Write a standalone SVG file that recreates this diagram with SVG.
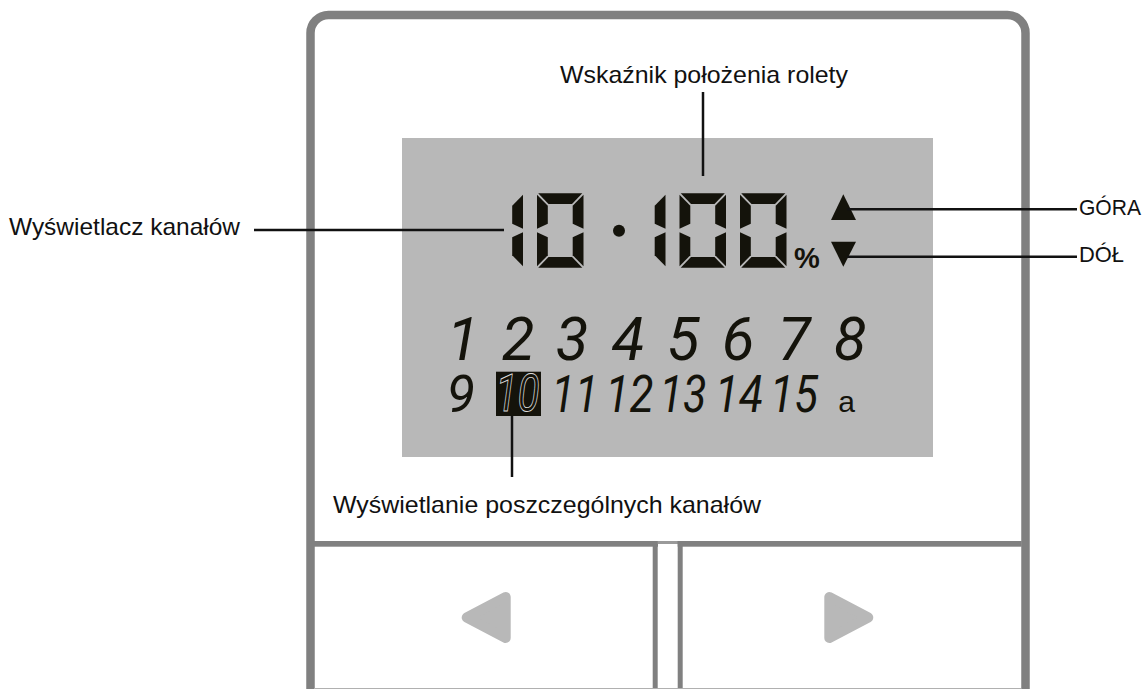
<svg xmlns="http://www.w3.org/2000/svg" width="1146" height="689" viewBox="0 0 1146 689">
<style>
.frame{fill:none;stroke:#808080;stroke-width:8.5}
.bar{fill:#808080}
.lbl{font-family:"Liberation Sans",Arial,sans-serif;font-size:24px;fill:#111}
.num{font-family:Roboto,"Liberation Sans",sans-serif;font-style:italic;font-weight:400;fill:#14130b;text-anchor:middle}
.conn line{stroke:#111;stroke-width:2.5}
.btn{fill:#b8b8b8;stroke:#b8b8b8;stroke-width:10;stroke-linejoin:round}
</style>
<defs>
<g id="d0" fill="#14130b">
<polygon points="1.2,0 45.3,0 35,10.8 11.5,10.8"/>
<polygon points="1.2,74.4 45.3,74.4 35,63.6 11.5,63.6"/>
<polygon points="0,1.4 10.8,12.4 10.8,30.4 0,35.4"/>
<polygon points="0,39 10.8,44 10.8,62 0,73"/>
<polygon points="46.5,1.4 46.5,35.4 35.7,30.4 35.7,12.4"/>
<polygon points="46.5,39 46.5,73 35.7,62 35.7,44"/>
</g>
<g id="d1" fill="#14130b">
<polygon points="10.8,1.4 10.8,35.4 0,30.4 0,12.4"/>
<polygon points="10.8,39 10.8,73 0,62 0,44"/>
</g>
</defs>
<rect width="1146" height="689" fill="#fff"/>

<g id="device">
<path class="frame" d="M310.5,700 V33 A18,18 0 0 1 328.5,15 H1007.5 A18,18 0 0 1 1025.5,33 V700"/>
<rect id="lcd" x="402" y="138" width="531" height="319" fill="#b8b8b8"/>
</g>

<g id="buttons">
<rect class="bar" x="314" y="541" width="344" height="5.7"/>
<rect x="657" y="541" width="21" height="3" fill="#9a9a9a"/>
<rect class="bar" x="677.7" y="541" width="344" height="5.7"/>
<rect class="bar" x="652.7" y="541" width="5" height="150"/>
<rect class="bar" x="677.7" y="541" width="5" height="150"/>
<line x1="314" y1="688.5" x2="1021" y2="688.5" stroke="#b0b0b0" stroke-width="1"/>
<polygon id="btn-left" class="btn" points="505.7,597 505.7,638 466.7,617.5"/>
<polygon id="btn-right" class="btn" points="829.3,597 829.3,638 868.3,617.5"/>
</g>

<g id="segment-display">
<use href="#d1" x="512.2" y="193.3"/>
<use href="#d0" x="537" y="193.3"/>
<circle cx="619" cy="230.7" r="6" fill="#14130b"/>
<use href="#d1" x="654.7" y="193.3"/>
<use href="#d0" x="679.5" y="193.3"/>
<use href="#d0" x="740" y="193.3"/>
<text x="807" y="267.7" text-anchor="middle" font-family="Liberation Sans,Arial,sans-serif" font-weight="bold" font-size="29" fill="#14130b">%</text>
<polygon id="up" points="843.3,194.3 856,220 831,220" fill="#14130b"/>
<polygon id="down" points="831,241.7 856,241.7 843.3,266.7" fill="#14130b"/>
</g>

<g id="channels">
<text class="num" font-size="60" x="463" y="360">1</text>
<text class="num" font-size="60" x="518" y="360">2</text>
<text class="num" font-size="60" x="572" y="360">3</text>
<text class="num" font-size="60" x="628" y="360">4</text>
<text class="num" font-size="60" x="683" y="360">5</text>
<text class="num" font-size="60" x="738" y="360">6</text>
<text class="num" font-size="60" x="794" y="360">7</text>
<text class="num" font-size="60" x="850" y="360">8</text>
<text class="num" font-size="52" x="461" y="411.5">9</text>
<rect x="496" y="371.7" width="45" height="44.3" fill="#14130b"/>
<text class="num" font-size="52" x="517.5" y="410.5" textLength="44" lengthAdjust="spacingAndGlyphs" style="fill:#14130b;stroke:#dcdcdc;stroke-width:0.9">10</text>
<text class="num" font-size="52" x="575" y="411.5" textLength="47" lengthAdjust="spacingAndGlyphs">11</text>
<text class="num" font-size="52" x="629.5" y="411.5" textLength="48" lengthAdjust="spacingAndGlyphs">12</text>
<text class="num" font-size="52" x="683" y="411.5" textLength="47" lengthAdjust="spacingAndGlyphs">13</text>
<text class="num" font-size="52" x="739" y="411.5" textLength="48" lengthAdjust="spacingAndGlyphs">14</text>
<text class="num" font-size="52" x="794" y="411.5" textLength="48" lengthAdjust="spacingAndGlyphs">15</text>
<text x="846.5" y="411.5" text-anchor="middle" font-family="Liberation Sans,Arial,sans-serif" font-size="30" fill="#14130b">a</text>
</g>

<g class="conn" id="connectors">
<line x1="703" y1="92" x2="703" y2="176"/>
<line x1="254" y1="230" x2="504" y2="230"/>
<line x1="847" y1="209.3" x2="1077" y2="209.3"/>
<line x1="847" y1="256.7" x2="1077" y2="256.7"/>
<line x1="512" y1="416" x2="512" y2="477"/>
</g>

<g id="label-position"><text class="lbl" x="560" y="82.5" textLength="288" lengthAdjust="spacingAndGlyphs">Wskaźnik położenia rolety</text></g>
<g id="label-channels"><text class="lbl" x="9" y="234.5" textLength="231" lengthAdjust="spacingAndGlyphs">Wyświetlacz kanałów</text></g>
<g id="label-up"><text class="lbl" x="1079" y="214.5" style="font-size:22.5px" textLength="62" lengthAdjust="spacingAndGlyphs">GÓRA</text></g>
<g id="label-down"><text class="lbl" x="1079" y="262" style="font-size:22.5px" textLength="45" lengthAdjust="spacingAndGlyphs">DÓŁ</text></g>
<g id="label-single"><text class="lbl" x="333" y="513" textLength="428" lengthAdjust="spacingAndGlyphs">Wyświetlanie poszczególnych kanałów</text></g>
</svg>
